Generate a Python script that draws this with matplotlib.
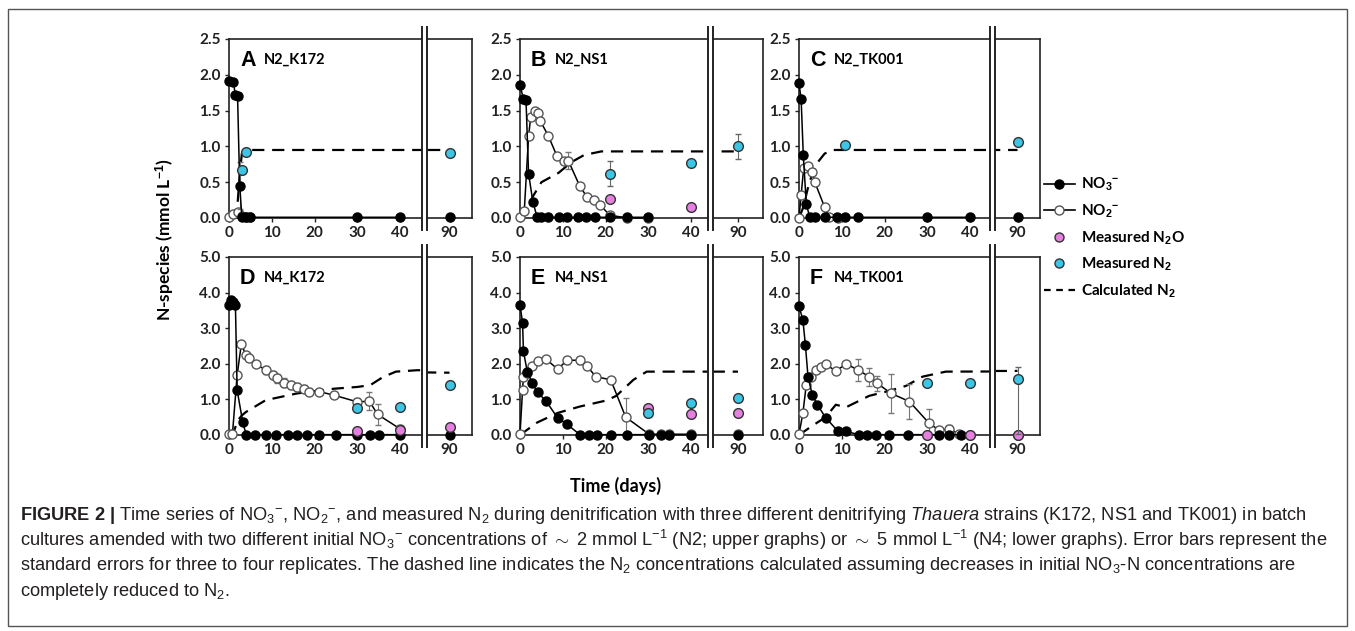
import matplotlib.pyplot as plt
import matplotlib.font_manager as fm
from matplotlib.lines import Line2D
from matplotlib.patches import Rectangle
import numpy as np

# ---------------- data (time in days, mmol/L) ----------------
# A  N2_K172
A_no3_t = [0, 1, 1.5, 2, 2.5, 3, 4, 5, 30, 40, 90]
A_no3 = [1.92, 1.90, 1.72, 1.71, 0.45, 0.02, 0.01, 0.01, 0.01, 0.01, 0.01]
A_no3_err = [0, 0, 0, 0, 0.33, 0, 0, 0, 0, 0, 0]
A_no2_t = [0, 1, 2, 3, 4, 5]
A_no2 = [0.02, 0.05, 0.08, 0.03, 0.01, 0.01]
A_calc_t = [0, 1, 2, 2.5, 3, 4, 90]
A_calc = [0, 0.02, 0.2, 0.6, 0.9, 0.95, 0.95]
A_n2_t = [3, 4, 90]
A_n2 = [0.67, 0.92, 0.91]
A_n2o_t = []
A_n2o = []

# B  N2_NS1
B_no3_t = [0, 0.8, 1.4, 2, 3, 4, 5, 6.5, 9, 11, 13.5, 15.5, 17.5, 21, 25, 30]
B_no3 = [1.86, 1.66, 1.65, 0.62, 0.23, 0.01, 0.01, 0.01, 0.01, 0.01, 0.01, 0.01, 0.01, 0.01, 0.01, 0.01]
B_no2_t = [0, 1, 2, 2.5, 3.4, 4.2, 4.7, 6.6, 8.6, 10.3, 11.3, 14, 15.6, 17.2, 18.7, 21, 25, 30]
B_no2 = [0.02, 0.1, 1.14, 1.41, 1.5, 1.47, 1.36, 1.15, 0.87, 0.8, 0.8, 0.44, 0.3, 0.25, 0.18, 0.04, 0.0, 0.0]
B_no2_err = [0, 0, 0, 0, 0, 0, 0, 0, 0, 0, 0.12, 0, 0, 0, 0, 0, 0, 0]
B_calc_t = [0, 2, 3, 5, 9, 12, 15, 19, 90]
B_calc = [0, 0.15, 0.3, 0.5, 0.63, 0.78, 0.88, 0.93, 0.93]
B_n2_t = [21, 40, 90]
B_n2 = [0.62, 0.77, 1.0]
B_n2_err = [0.17, 0, 0.18]
B_n2o_t = [21, 40]
B_n2o = [0.26, 0.15]

# C  N2_TK001
C_no3_t = [0, 0.5, 1, 1.7, 2.5, 3.7, 6, 8.8, 10.7, 13.9, 30, 40, 90]
C_no3 = [1.88, 1.66, 0.88, 0.2, 0.01, 0.01, 0.01, 0.01, 0.01, 0.01, 0.01, 0.01, 0.01]
C_no2_t = [0, 0.5, 1.1, 2, 3.1, 3.7, 6, 7, 9]
C_no2 = [0.0, 0.32, 0.7, 0.73, 0.64, 0.5, 0.15, 0.02, 0.0]
C_calc_t = [0, 1, 2, 3, 4, 6, 8, 90]
C_calc = [0, 0.15, 0.4, 0.6, 0.75, 0.9, 0.95, 0.95]
C_n2_t = [10.7, 90]
C_n2 = [1.02, 1.06]
C_n2o_t = []
C_n2o = []

# D  N4_K172
D_no3_t = [0, 0.5, 1, 1.5, 1.9, 3.2, 4, 6, 8.7, 10.9, 13.8, 15.9, 18.3, 21, 25, 30, 33, 35, 40, 90]
D_no3 = [3.64, 3.78, 3.75, 3.66, 1.26, 0.37] + [0.01] * 14
D_no2_t = [0, 0.8, 1.9, 2.9, 3.9, 4.7, 6.2, 8.6, 10.3, 11.3, 12.9, 14.4, 16, 17.5, 18.6, 21, 24.5, 30, 32.8, 34.7, 40]
D_no2 = [0.02, 0.02, 1.68, 2.57, 2.24, 2.15, 2.0, 1.82, 1.68, 1.59, 1.47, 1.4, 1.35, 1.3, 1.22, 1.22, 1.12, 0.93, 0.95, 0.58, 0.17]
D_no2_err = [0, 0, 0, 0, 0, 0, 0.08, 0.12, 0.12, 0.12, 0.12, 0.12, 0.12, 0.1, 0.1, 0.08, 0.08, 0.1, 0.25, 0.3, 0.1]
D_calc_t = [0, 1, 2, 3, 4, 8.6, 16, 24.5, 30, 33, 36, 39, 44, 90]
D_calc = [0, 0.05, 0.4, 0.55, 0.65, 0.98, 1.17, 1.3, 1.35, 1.4, 1.63, 1.78, 1.82, 1.75]
D_n2_t = [30, 40, 90]
D_n2 = [0.75, 0.79, 1.4]
D_n2o_t = [30, 40, 90]
D_n2o = [0.12, 0.13, 0.23]

# E  N4_NS1
E_no3_t = [0, 0.6, 0.8, 1.7, 2.9, 4.1, 6.1, 8.8, 11, 14, 16.1, 18, 21.2, 25.1, 30.2, 33, 34.9, 40, 90]
E_no3 = [3.66, 3.15, 2.35, 1.78, 1.45, 1.2, 0.95, 0.48, 0.3] + [0.01] * 10
E_no2_t = [0, 0.6, 0.8, 1.7, 2.9, 4.1, 6.1, 8.8, 11, 14, 15.7, 17.7, 21.2, 24.7, 30.2, 33, 34.9, 40, 90]
E_no2 = [0.02, 1.27, 1.64, 1.74, 1.93, 2.07, 2.13, 1.85, 2.1, 2.1, 1.93, 1.64, 1.55, 0.5, 0.02, 0.02, 0.02, 0.02, 0.02]
E_no2_err = [0, 0, 0, 0, 0, 0, 0, 0, 0.1, 0.1, 0, 0, 0, 0.55, 0, 0, 0, 0.1, 0.1]
E_calc_t = [0, 4, 8.8, 14, 20.2, 22.5, 26.5, 29.6, 90]
E_calc = [0, 0.35, 0.62, 0.8, 0.97, 1.1, 1.55, 1.78, 1.78]
E_n2_t = [30, 40, 90]
E_n2 = [0.63, 0.89, 1.03]
E_n2o_t = [30, 40, 90]
E_n2o = [0.75, 0.6, 0.63]

# F  N4_TK001
F_no3_t = [0, 0.9, 1.5, 2.1, 3.1, 4.3, 6.2, 9, 11, 14, 16, 17.9, 21.1, 25.4, 32.8, 35, 37.9, 90]
F_no3 = [3.61, 3.24, 2.52, 1.64, 1.13, 0.85, 0.49, 0.12, 0.1] + [0.01] * 9
F_no2_t = [0, 0.9, 1.7, 2.7, 3.9, 5.1, 6.2, 8.6, 11, 13.7, 16.4, 18.3, 21.5, 25.8, 30.4, 32.8, 35, 37.4, 40, 90]
F_no2 = [0.02, 0.61, 1.41, 1.64, 1.83, 1.9, 2.0, 1.79, 2.0, 1.83, 1.64, 1.45, 1.17, 0.94, 0.33, 0.13, 0.17, 0.03, 0.01, 0.01]
F_no2_err = [0, 0, 0, 0, 0, 0, 0, 0, 0, 0.3, 0.25, 0.2, 0.55, 0.5, 0.4, 0, 0.1, 0, 0, 0]
F_calc_t = [0, 3, 6.2, 8.6, 11, 16.4, 21.1, 25, 28.9, 34.3, 90]
F_calc = [0, 0.25, 0.5, 0.85, 0.78, 1.1, 1.24, 1.38, 1.64, 1.78, 1.8]
F_n2_t = [30, 40, 90]
F_n2 = [1.45, 1.47, 1.57]
F_n2_err = [[0, 0, 1.55], [0, 0, 0.33]]
F_n2o_t = [30, 40, 90]
F_n2o = [0, 0, 0]

letters = ['A', 'B', 'C', 'D', 'E', 'F']
names = ['N2_K172', 'N2_NS1', 'N2_TK001', 'N4_K172', 'N4_NS1', 'N4_TK001']

# ---------------- style ----------------
PINK = '#E57FE0'
CYAN = '#3DC5E6'
avail = {f.name for f in fm.fontManager.ttflist}
LAB = ['Lato', 'DejaVu Sans'] if 'Lato' in avail else ['DejaVu Sans']
CAP = 'Liberation Sans Narrow' if 'Liberation Sans Narrow' in avail else 'Liberation Sans'
plt.rcParams['mathtext.fontset'] = 'custom'
plt.rcParams['mathtext.rm'] = CAP
plt.rcParams['mathtext.it'] = CAP + ':italic'
plt.rcParams['mathtext.bf'] = CAP + ':bold'

W, H = 1355, 631
fig = plt.figure(figsize=(W / 100, H / 100), dpi=100)


def fx(px):
    return px / W


def fy(py):
    return 1 - py / H


# panel boxes in pixels: main left, main right, right-box left, right-box right
cols = [(229, 422, 427, 472), (520, 708, 713, 763), (799, 990, 995, 1040)]
rows = [(39, 218, 2.5, 0.5), (257, 435, 5.0, 1.0)]

panel_data = [
    (A_no3_t, A_no3, A_no3_err, A_no2_t, A_no2, None, A_calc_t, A_calc, A_n2_t, A_n2, None, A_n2o_t, A_n2o),
    (B_no3_t, B_no3, None, B_no2_t, B_no2, B_no2_err, B_calc_t, B_calc, B_n2_t, B_n2, B_n2_err, B_n2o_t, B_n2o),
    (C_no3_t, C_no3, None, C_no2_t, C_no2, None, C_calc_t, C_calc, C_n2_t, C_n2, None, C_n2o_t, C_n2o),
    (D_no3_t, D_no3, None, D_no2_t, D_no2, D_no2_err, D_calc_t, D_calc, D_n2_t, D_n2, None, D_n2o_t, D_n2o),
    (E_no3_t, E_no3, None, E_no2_t, E_no2, E_no2_err, E_calc_t, E_calc, E_n2_t, E_n2, None, E_n2o_t, E_n2o),
    (F_no3_t, F_no3, None, F_no2_t, F_no2, F_no2_err, F_calc_t, F_calc, F_n2_t, F_n2, F_n2_err, F_n2o_t, F_n2o),
]


def subset(t, y, err, lo, hi):
    t = np.asarray(t, float)
    y = np.asarray(y, float)
    m = (t >= lo) & (t <= hi)
    e = None
    if err is not None:
        e = np.asarray(err, float)
        e = e[..., m]
    return t[m], y[m], e


def draw(ax, d, lo, hi):
    no3_t, no3, no3_e, no2_t, no2, no2_e, calc_t, calc, n2_t, n2, n2_e, n2o_t, n2o = d
    ax.plot(calc_t, calc, color='k', lw=1.6, ls=(0, (5.5, 3.5)), zorder=2)
    t, y, e = subset(no2_t, no2, no2_e, lo, hi)
    if len(t):
        ax.errorbar(t, y, yerr=e, color='k', lw=1.1, marker='o', ms=6.5, mfc='white', mec='#555555',
                    mew=1.0, ecolor='#777777', elinewidth=0.8, capsize=2, zorder=3, clip_on=False)
    t, y, e = subset(no3_t, no3, no3_e, lo, hi)
    if len(t):
        ax.errorbar(t, y, yerr=e, color='k', lw=1.1, marker='o', ms=6.5, mfc='k', mec='k',
                    ecolor='#777777', elinewidth=0.8, capsize=2, zorder=4, clip_on=False)
    t, y, e = subset(n2o_t, n2o, None, lo, hi)
    if len(t):
        ax.plot(t, y, ls='none', marker='o', ms=7, mfc=PINK, mec='#333333', mew=1.0, zorder=5, clip_on=False)
    t, y, e = subset(n2_t, n2, n2_e, lo, hi)
    if len(t):
        ax.errorbar(t, y, yerr=e, ls='none', marker='o', ms=7, mfc=CYAN, mec='#333333', mew=1.0,
                    ecolor='#666666', elinewidth=0.8, capsize=2, zorder=6, clip_on=False)


tick_font = dict(family=LAB, weight='bold', size=11)
for i in range(6):
    r, c = divmod(i, 3)
    top, bot, ymax, ystep = rows[r]
    ml, mr, rl, rr = cols[c]
    ax = fig.add_axes([fx(ml), fy(bot), (mr - ml) / W, (bot - top) / H])
    axr = fig.add_axes([fx(rl), fy(bot), (rr - rl) / W, (bot - top) / H])
    xmax = (mr - ml) / 4.28
    ax.set_xlim(0, xmax)
    axr.set_xlim(85, 95)
    for a in (ax, axr):
        a.set_ylim(0, ymax)
        a.patch.set_alpha(0)
        for s in a.spines.values():
            s.set_linewidth(1.2)
            s.set_color('#222222')
        a.tick_params(direction='out', length=3, width=1, pad=3, colors='#222222')
    draw(ax, panel_data[i], -1, xmax)
    draw(axr, panel_data[i], 85, 95)
    ax.spines['right'].set_visible(False)
    axr.spines['left'].set_visible(False)
    ax.set_xticks([0, 10, 20, 30, 40])
    axr.set_xticks([90])
    ax.set_yticks(np.arange(0, ymax + 0.01, ystep))
    ax.set_yticklabels([f'{v:.1f}' for v in np.arange(0, ymax + 0.01, ystep)], **tick_font)
    ax.set_xticklabels(['0', '10', '20', '30', '40'], **tick_font)
    axr.set_xticklabels(['90'], **tick_font)
    axr.set_yticks([])
    # double break lines
    for xb in (mr, rl):
        fig.add_artist(Line2D([fx(xb), fx(xb)], [fy(bot + 12), fy(top - 12)], color='#222222', lw=1.4))
    ax.text(11 / (mr - ml), 0.88, letters[i], transform=ax.transAxes, fontsize=15.5, fontweight='bold',
            family='Liberation Sans', va='center', ha='left')
    ax.text(35 / (mr - ml), 0.885, names[i], transform=ax.transAxes, fontsize=10.5, fontweight='bold',
            family=LAB, va='center', ha='left')

# axis titles
fig.text(fx(165), fy(240), 'N-species (mmol L$^{\\mathbf{-1}}$)', rotation=90, ha='center', va='center',
         fontsize=12.5, fontweight='bold', family=LAB)
fig.text(fx(616), fy(486), 'Time (days)', ha='center', va='center', fontsize=13, fontweight='bold', family=LAB)

# legend
handles = [
    Line2D([], [], color='k', lw=1.2, marker='o', ms=6.5, mfc='k'),
    Line2D([], [], color='k', lw=1.2, marker='o', ms=6.5, mfc='white', mec='#555555'),
    Line2D([], [], ls='none', marker='o', ms=6.5, mfc=PINK, mec='#333333'),
    Line2D([], [], ls='none', marker='o', ms=6.5, mfc=CYAN, mec='#333333'),
    Line2D([], [], color='k', lw=1.6, ls=(0, (3, 2.5))),
]
labels = ['NO$_\\mathbf{3}$$^\\mathbf{-}$', 'NO$_\\mathbf{2}$$^\\mathbf{-}$', 'Measured N$_\\mathbf{2}$O',
          'Measured N$_\\mathbf{2}$', 'Calculated N$_\\mathbf{2}$']
fig.legend(handles, labels, loc='upper left', bbox_to_anchor=(fx(1044), fy(176)), frameon=False,
           prop=dict(family=LAB, weight='bold', size=11), handlelength=2.0, handletextpad=0.45,
           labelspacing=0.6, borderaxespad=0, borderpad=0)

# outer frame
fig.add_artist(Rectangle((fx(8), fy(626)), (1347 - 8) / W, (626 - 9) / H, transform=fig.transFigure,
                         fill=False, edgecolor='#555555', lw=1))

# caption
cap_lines = [
    r'$\mathbf{FIGURE\ 2\ |}$ Time series of NO$_3$$^{-}$, NO$_2$$^{-}$, and measured N$_2$ during denitrification '
    r'with three different denitrifying $\mathit{Thauera}$ strains (K172, NS1 and TK001) in batch',
    r'cultures amended with two different initial NO$_3$$^{-}$ concentrations of $\sim$ 2 mmol L$^{-1}$ '
    r'(N2; upper graphs) or $\sim$ 5 mmol L$^{-1}$ (N4; lower graphs). Error bars represent the',
    r'standard errors for three to four replicates. The dashed line indicates the N$_2$ concentrations '
    r'calculated assuming decreases in initial NO$_3$-N concentrations are',
    r'completely reduced to N$_2$.',
]
cap_y = [515, 540, 566, 591]
caps = [fig.text(fx(20), fy(yy), s, ha='left', va='center', fontsize=10, family=CAP, color='#231F20')
        for s, yy in zip(cap_lines, cap_y)]
fig.canvas.draw()
rend = fig.canvas.get_renderer()
widest = max(caps[0].get_window_extent(rend).width, caps[1].get_window_extent(rend).width)
scale = (1331 - 20) / widest
for t in caps:
    t.set_fontsize(10 * scale)

fig.savefig('out.png', dpi=100)
